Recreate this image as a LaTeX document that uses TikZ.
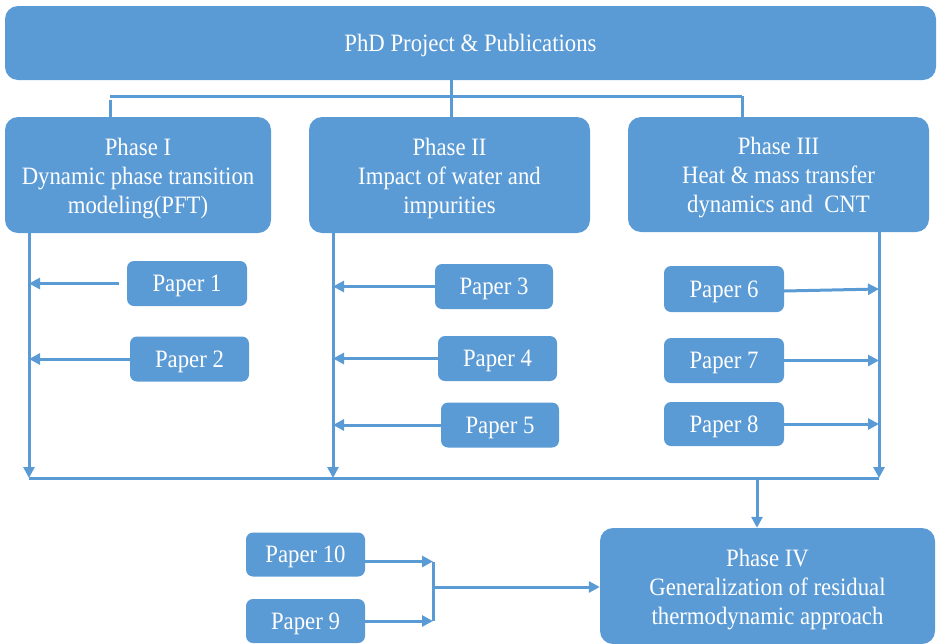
\documentclass[tikz,border=0pt]{standalone}
\usepackage{fontspec}
\setmainfont{Liberation Serif}[FakeStretch=0.91]
\usetikzlibrary{arrows.meta}
\definecolor{bl}{HTML}{5B9BD5}
\begin{document}
\begin{tikzpicture}[x=1pt,y=-1pt,
  box/.style={fill=bl, rounded corners=13pt, text=white, align=center, inner sep=0pt,
    font=\fontsize{25}{29}\selectfont, text height=22pt},
  phase/.style={box, text height=82pt},
  paper/.style={box, rounded corners=7pt, minimum width=119pt, minimum height=45pt},
  conn/.style={draw=bl, line width=3pt},
  arr/.style={conn, -{Triangle[length=11pt,width=11pt]}}]
\useasboundingbox (0,0) rectangle (937,643);
% main boxes
\node[box, minimum width=931pt, minimum height=74pt] (top) at (470.5,43) {PhD Project \& Publications};
\node[phase, minimum width=266pt, minimum height=116pt] (ph1) at (138,175) {Phase I\\Dynamic phase transition\\modeling(PFT)};
\node[phase, minimum width=281pt, minimum height=116pt] (ph2) at (449.5,175) {Phase II\\Impact of water and\\impurities};
\node[phase, minimum width=301pt, minimum height=115pt] (ph3) at (778.5,174.5) {Phase III\\Heat \& mass transfer\\dynamics and~ CNT};
\node[phase, minimum width=335pt, minimum height=116pt] (ph4) at (767.5,586) {Phase IV\\Generalization of residual\\thermodynamic approach};
% papers
\node[paper, minimum width=120pt] (p1) at (187,283.5) {Paper 1};
\node[paper] (p2) at (189.5,359) {Paper 2};
\node[paper, minimum width=118pt] (p3) at (494,286.5) {Paper 3};
\node[paper] (p4) at (497.5,358.5) {Paper 4};
\node[paper, minimum width=118pt] (p5) at (500,425) {Paper 5};
\node[paper, minimum width=120pt, minimum height=46pt] (p6) at (724,289) {Paper 6};
\node[paper, minimum width=120pt] (p7) at (724,360.5) {Paper 7};
\node[paper, minimum width=120pt, minimum height=44pt] (p8) at (724,424) {Paper 8};
\node[paper, minimum height=44pt] (p10) at (305.5,554.5) {Paper 10};
\node[paper, minimum height=44pt] (p9) at (305.5,621) {Paper 9};
% coordinates
\coordinate (bl) at (110,96);
\coordinate (bm) at (451,96);
\coordinate (br) at (742,96);
\coordinate (v1) at (29,478);
\coordinate (v2) at (333,478);
\coordinate (v3) at (879,478);
\coordinate (dn) at (757,478);
\coordinate (j) at (433,587);
% top bracket
\draw[conn] (top.south -| bm) -- (bm |- ph2.north);
\draw[conn] (bl) -- (br);
\draw[conn] ([yshift=-4pt]bl) -- (bl |- ph1.north);
\draw[conn] (br) -- (br |- ph3.north);
% phase verticals
\draw[arr] (v1 |- ph1.south) -- (v1);
\draw[arr] (v2 |- ph2.south) -- (v2);
\draw[arr] (v3 |- ph3.south) -- (v3);
\draw[conn] (v1) -- (v3);
\draw[arr] (dn) -- (dn |- ph4.north);
% papers into verticals
\draw[arr] ([xshift=-8pt]p1.west) -- (p1.west -| v1);
\draw[arr] (p2.west) -- (p2.west -| v1);
\draw[arr] (p3.west) -- (p3.west -| v2);
\draw[arr] (p4.west) -- (p4.west -| v2);
\draw[arr] (p5.west) -- (p5.west -| v2);
\draw[arr] ([yshift=-2pt]p6.east) -- (p6.east -| v3);
\draw[arr] (p7.east) -- (p7.east -| v3);
\draw[arr] (p8.east) -- (p8.east -| v3);
% papers 9/10 to phase IV
\draw[arr] ([yshift=-7pt]p10.east) -- ([yshift=-7pt]p10.east -| j);
\draw[arr] (p9.east) -- (p9.east -| j);
\draw[conn] ([yshift=-7pt]p10.east -| j) -- (p9.east -| j);
\draw[arr] (j) -- (j -| ph4.west);
\end{tikzpicture}
\end{document}
